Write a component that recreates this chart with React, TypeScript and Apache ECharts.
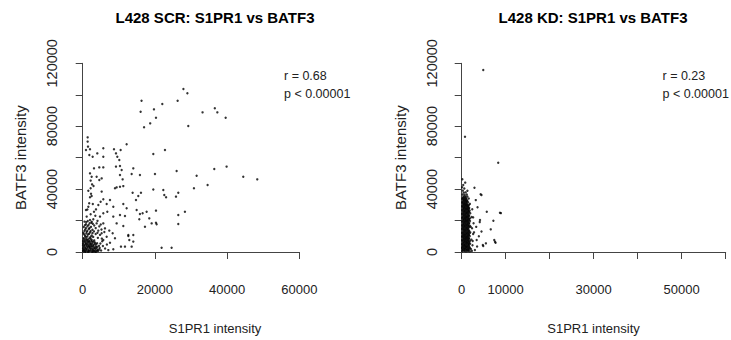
import { useEffect, useRef } from "react";
import * as echarts from "echarts";

// ---------- texts ----------
const scrTitle = "L428 SCR: S1PR1 vs BATF3";
const kdTitle = "L428 KD: S1PR1 vs BATF3";
const xAxisTitle = "S1PR1 intensity";
const yAxisTitle = "BATF3 intensity";
const scrStats = ["r = 0.68", "p < 0.00001"];
const kdStats = ["r = 0.23", "p < 0.00001"];

// ---------- axes ----------
const xMin = 0;
const xMax = 60000;
const yMin = 0;
const yMax = 120000;
const scrXInterval = 20000;
const kdXInterval = 10000;
const yInterval = 20000;
const scrXTickLabels = [0, 20000, 40000, 60000];
const kdXTickLabels = [0, 10000, 30000, 50000];
const yTickLabels = [0, 40000, 80000, 120000];

// ---------- data: [S1PR1 intensity, BATF3 intensity] ----------
const scrUpper: [number, number][] = [
  [27900, 103700], [29000, 100900], [16300, 96200], [22050, 94100], [26300, 96200],
  [19740, 90700], [16050, 89200], [33200, 88800], [36600, 91400], [37300, 88800],
  [39600, 85400], [20300, 85400], [18700, 81800], [17000, 79300], [29250, 80100],
];

const scrMiddle: [number, number][] = [
  [1370, 72900], [1370, 70200], [1470, 67000], [910, 64900], [2020, 65300], [5710, 66000],
  [8670, 65300], [10510, 64900], [12170, 68500], [1840, 61700], [2760, 60600], [4050, 62700],
  [5710, 60600], [9220, 62700], [9590, 60600], [10140, 58500], [19560, 62300], [22790, 64900],
  [3130, 53200], [4600, 53800], [5710, 53800], [9220, 54300], [10330, 54700], [10790, 52100],
  [14020, 53200], [15860, 49000], [20020, 49600], [26020, 51500], [31560, 48500], [36450, 52800],
  [39860, 54300], [44480, 47900], [48360, 46200], [2020, 50000], [2480, 47900], [2200, 45400],
  [3860, 47900], [4600, 45800], [5250, 46800], [10330, 49000], [11060, 46200], [13560, 49600],
  [9400, 41100], [10330, 41500], [11250, 41900], [8940, 40500], [2200, 40500], [1560, 39000],
  [2480, 35600], [2020, 34800], [5250, 38400], [19560, 39800], [22330, 39400], [22600, 36200],
  [23100, 34800], [25840, 35200], [26480, 37700], [30820, 40500], [34600, 42600], [28320, 25600],
  [13830, 37700], [15400, 35600], [16140, 37700], [14760, 33100], [5710, 33500], [7560, 33100],
  [2600, 43000], [3000, 42000], [2300, 37000], [1800, 31000], [2800, 30500], [1300, 27000],
  [2200, 24000], [3500, 23000],
];

const scrLower: [number, number][] = [
  [17710, 25600], [15860, 24200], [16600, 24600], [20300, 26300], [18450, 21400], [20300, 18600],
  [26480, 23500], [19100, 18200], [17250, 16100], [20480, 17600], [26480, 17800], [21860, 2750],
  [24630, 2750], [10600, 3400], [11710, 3400], [13560, 3400], [12640, 10800], [14020, 10800],
  [14020, 6600], [11250, 16500], [15680, 20800], [14940, 26700], [12170, 27800], [11250, 30500],
  [11710, 22900], [10330, 23500], [9400, 18200], [8480, 22500], [8480, 28800], [6820, 25600],
  [6640, 30500], [4970, 32000], [4330, 29900], [3680, 27100], [5710, 24600], [4790, 22500],
  [3130, 25600], [1560, 28800], [910, 26700], [1100, 22500], [2020, 20300], [2940, 20800],
  [3860, 18200], [5710, 18200], [6170, 15000], [7370, 13600], [5250, 11900], [4330, 13600],
  [6640, 9700], [8300, 11900], [8940, 8700], [8480, 1700], [7560, 5900], [5710, 7600],
  [12910, 7600], [12640, 10200],
];

const scrCluster: [number, number][] = [
  [150, 300], [700, 500], [1300, 250], [1900, 600], [2500, 350], [3100, 550], [3800, 300], [4300, 700],
  [400, 1500], [1000, 1800], [1600, 1400], [2200, 1900], [2800, 1600], [3500, 2000], [4100, 1500],
  [200, 3000], [800, 2800], [1400, 3300], [2000, 3100], [2600, 3400], [3300, 2900], [4000, 3300],
  [500, 4400], [1100, 4700], [1700, 4300], [2300, 4800], [3000, 4500], [3700, 4900],
  [250, 6000], [900, 5800], [1500, 6200], [2100, 5900], [2700, 6300], [3400, 6000],
  [600, 7300], [1200, 7600], [1800, 7200], [2500, 7700], [3200, 7400],
  [4700, 2600], [5100, 1000], [5600, 3800], [6200, 2200], [4900, 5400], [5400, 6800], [6700, 4800], [7100, 1200],
  [300, 8800], [1000, 9400], [1900, 8900], [2900, 9600], [4200, 9000], [5300, 8500],
  [600, 10700], [1500, 11200], [2500, 10500], [3600, 11400], [4800, 10900],
  [200, 12300], [1100, 12800], [2000, 12500], [3100, 13100], [4100, 12200], [6000, 12700],
  [700, 14300], [1700, 14700], [2700, 14100], [3600, 15200], [5200, 14300],
  [300, 15900], [1300, 16400], [2300, 16000], [3200, 16800], [4600, 16300],
  [900, 17700], [1900, 18300], [2800, 17900], [5000, 17500],
  [500, 19300], [1400, 19700], [2500, 19200], [4100, 19800],
];

const scrCore: [number, number][] = [
  [450, 900], [1000, 1100], [1600, 800], [2200, 1000], [2800, 1100], [3400, 900], [4000, 1000],
  [700, 2300], [1300, 2400], [1900, 2500], [2500, 2300], [3100, 2400], [3800, 2600],
  [500, 3700], [1100, 3900], [1700, 3700], [2300, 3900], [2900, 3800], [3600, 3700],
  [800, 5100], [1400, 5300], [2000, 5100], [2600, 5300], [3300, 5200], [4000, 5600],
  [600, 6600], [1200, 6800], [1800, 6600], [2400, 6900], [3000, 6700],
  [100, 1000], [100, 2200], [100, 4200], [100, 5200], [100, 7000],
  [300, 8100], [900, 8300], [1500, 8100], [2200, 8400],
  [700, 100], [1600, 100], [2800, 120], [3500, 100], [4600, 1600], [4500, 3900],
  [700, 9900], [1300, 10000], [2200, 9700], [300, 11500], [1000, 11800], [1800, 11600],
  [2700, 12000], [500, 13500], [1300, 13500], [2200, 13300], [900, 15200], [1900, 15300],
  [600, 17000], [1600, 17100], [2400, 18600], [1000, 19000],
];

const kdOutliers: [number, number][] = [
  [4900, 115700], [750, 73300], [8300, 56800], [8700, 25000], [8900, 24700], [2900, 40900],
  [4300, 36700], [4500, 36200], [5700, 25600], [7200, 19900], [6600, 14400], [7700, 5900],
  [7400, 7600], [4800, 4500], [5500, 5500], [3000, 1300], [3200, 33000], [3600, 28500],
  [2600, 22000], [4100, 19000], [4160, 20300], [3300, 16000], [2800, 12500], [3900, 10000],
  [4500, 13000], [2500, 7000], [3400, 7600], [3500, 3500], [4900, 3800], [7570, 6550],
];

const kdBlob: [number, number][] = [
  [120, 480], [560, 620], [980, 390], [1420, 560], [1850, 450], [2300, 700],
  [330, 1650], [770, 1820], [1210, 1590], [1640, 1760], [2100, 1900],
  [100, 2950], [540, 2810], [960, 3020], [1380, 2870], [1790, 2990],
  [310, 4060], [750, 4180], [1170, 3990], [1600, 4140], [2450, 4300],
  [180, 5330], [620, 5220], [1040, 5380], [1480, 5260], [1900, 5400],
  [400, 6450], [830, 6580], [1260, 6420], [1700, 6550],
  [140, 7720], [580, 7630], [1010, 7790], [1440, 7680], [2200, 7850],
  [360, 8940], [790, 8820], [1220, 8970], [1650, 8860],
  [110, 10050], [530, 10180], [950, 10030], [1390, 10150], [1820, 10090],
  [320, 11340], [740, 11220], [1180, 11370], [1600, 11260], [2600, 11500],
  [170, 12480], [600, 12560], [1030, 12430], [1460, 12590], [1950, 12500],
  [390, 13740], [820, 13650], [1250, 13780], [1680, 13690],
  [130, 14920], [560, 14830], [990, 14970], [1420, 14860], [2350, 15100],
  [340, 16080], [770, 16150], [1200, 16030], [1630, 16170], [2050, 16000],
  [190, 17330], [610, 17240], [1050, 17380], [1480, 17270],
  [420, 18480], [850, 18560], [1280, 18430], [1710, 18540], [2700, 18300],
  [120, 19730], [560, 19650], [980, 19780], [1410, 19680], [1880, 19750],
  [350, 20880], [790, 20950], [1220, 20840], [1650, 20930],
  [160, 22130], [600, 22040], [1030, 22170], [1460, 22080], [2250, 22300],
  [400, 23280], [830, 23360], [1260, 23240], [1690, 23330],
  [130, 24530], [570, 24450], [1000, 24580], [1430, 24470], [1950, 24600],
  [360, 25690], [790, 25760], [1220, 25640], [1650, 25730],
  [180, 26930], [620, 26850], [1050, 26980], [1480, 26870], [2400, 27200],
  [410, 28080], [840, 28150], [1270, 28040], [1700, 28120],
  [140, 29330], [580, 29250], [1010, 29380], [1440, 29270],
  [370, 30480], [800, 30560], [1230, 30430], [1850, 30600],
  [150, 31730], [590, 31640], [1020, 31780], [1450, 31680],
  [380, 32880], [810, 32950], [1240, 32840],
  [170, 34130], [600, 34050], [1030, 34180], [1600, 34000],
  [420, 35280], [860, 35360], [1300, 35240],
  [200, 36520], [650, 36450], [1150, 36600],
  [450, 37750], [900, 37900],
  [250, 39050], [1300, 38900],
  [600, 40400], [100, 41200],
  [350, 42600], [800, 44100], [150, 46300],
];

const kdBlobFill: [number, number][] = [
  [220, 1100], [660, 1050], [1100, 1180], [1530, 1080],
  [110, 2300], [550, 2250], [990, 2380], [1420, 2280], [1850, 2400],
  [320, 3480], [760, 3560], [1190, 3440], [1600, 3540],
  [130, 4720], [540, 4650], [980, 4780], [1400, 4690], [1750, 4800],
  [330, 5880], [770, 5950], [1200, 5840], [1620, 5930],
  [160, 7080], [600, 7160], [1030, 7050], [1470, 7140], [1900, 7100],
  [380, 8280], [810, 8350], [1240, 8240], [1670, 8330],
  [150, 9520], [580, 9450], [1010, 9560], [1440, 9480],
  [340, 10680], [770, 10750], [1200, 10640], [1630, 10730],
  [130, 11920], [560, 11850], [990, 11960], [1420, 11880], [1800, 11950],
  [380, 13080], [810, 13150], [1240, 13040], [1670, 13130],
  [160, 14320], [590, 14250], [1020, 14360], [1450, 14280],
  [350, 15480], [780, 15550], [1210, 15440], [1640, 15530],
  [140, 16720], [570, 16650], [1000, 16760], [1430, 16680], [1850, 16700],
  [370, 17880], [800, 17950], [1230, 17840], [1660, 17930],
  [170, 19120], [600, 19050], [1030, 19160], [1460, 19080],
  [390, 20280], [820, 20350], [1250, 20240], [1680, 20330],
  [140, 21520], [570, 21450], [1000, 21560], [1430, 21480], [1900, 21500],
  [360, 22680], [790, 22750], [1220, 22640], [1650, 22730],
  [170, 23920], [600, 23850], [1030, 23960], [1460, 23880],
  [380, 25080], [810, 25150], [1240, 25040], [1670, 25130],
  [150, 26320], [580, 26250], [1010, 26360], [1440, 26280], [1800, 26300],
  [370, 27480], [800, 27550], [1230, 27440], [1660, 27530],
  [160, 28720], [590, 28650], [1020, 28760], [1450, 28680],
  [360, 29880], [790, 29950], [1220, 29840], [1650, 29900],
  [170, 31120], [600, 31050], [1030, 31160],
  [380, 32280], [810, 32350], [1240, 32240],
  [160, 33520], [590, 33450], [1020, 33560],
  [360, 34680], [790, 34750],
];

const FONT = "'Liberation Sans', Arial, Helvetica, sans-serif";
const AXIS_COLOR = "#444";
const TEXT_COLOR = "#222";

function xAxisFor(gridIndex: number, interval: number, shown: number[]) {
  return {
    type: "value",
    gridIndex,
    min: xMin,
    max: xMax,
    interval,
    offset: 8,
    axisLine: { show: true, lineStyle: { color: AXIS_COLOR, width: 1 } },
    axisTick: { show: true, length: 7, lineStyle: { color: AXIS_COLOR, width: 1 } },
    axisLabel: {
      margin: 23,
      fontSize: 13,
      fontFamily: FONT,
      color: TEXT_COLOR,
      formatter: (v: number) => (shown.includes(v) ? String(v) : ""),
    },
    splitLine: { show: false },
  };
}

function yAxisFor(gridIndex: number, offset: number) {
  return {
    type: "value",
    gridIndex,
    min: yMin,
    max: yMax,
    interval: yInterval,
    offset,
    name: yAxisTitle,
    nameLocation: "middle",
    nameGap: 45,
    nameTextStyle: { fontSize: 15, fontFamily: FONT, color: TEXT_COLOR },
    axisLine: { show: true, lineStyle: { color: AXIS_COLOR, width: 1 } },
    axisTick: { show: true, length: 7, lineStyle: { color: AXIS_COLOR, width: 1 } },
    axisLabel: {
      rotate: 90,
      margin: 13,
      fontSize: 14.5,
      fontFamily: FONT,
      color: TEXT_COLOR,
      formatter: (v: number) => (yTickLabels.includes(v) ? String(v) : ""),
    },
    splitLine: { show: false },
  };
}

function label(text: string, x: number, y: number, size: number, bold: boolean, align: string) {
  return {
    type: "text",
    x,
    y,
    silent: true,
    style: {
      text,
      fill: bold ? "#000" : TEXT_COLOR,
      fontSize: size,
      fontWeight: bold ? "bold" : "normal",
      fontFamily: FONT,
      align,
      verticalAlign: "middle",
    },
  };
}

export default function App() {
  const ref = useRef<HTMLDivElement>(null);

  useEffect(() => {
    if (!ref.current) return;
    const chart = echarts.init(ref.current, undefined, { renderer: "svg" });
    const dot = { symbol: "circle", symbolSize: 2.4, itemStyle: { color: "#000" } };
    chart.setOption({
      animation: false,
      backgroundColor: "#fff",
      textStyle: { fontFamily: FONT },
      grid: [
        { left: 82.7, top: 63.3, width: 216.6, height: 188.7 },
        { left: 461.7, top: 63.3, width: 264, height: 188.7 },
      ],
      xAxis: [
        xAxisFor(0, scrXInterval, scrXTickLabels),
        xAxisFor(1, kdXInterval, kdXTickLabels),
      ],
      yAxis: [yAxisFor(0, 10), yAxisFor(1, 9)],
      series: [
        {
          type: "scatter",
          name: "SCR",
          xAxisIndex: 0,
          yAxisIndex: 0,
          data: [...scrUpper, ...scrMiddle, ...scrLower, ...scrCluster, ...scrCore],
          ...dot,
        },
        {
          type: "scatter",
          name: "KD",
          xAxisIndex: 1,
          yAxisIndex: 1,
          data: [...kdBlob, ...kdBlobFill, ...kdOutliers],
          ...dot,
        },
      ],
      graphic: [
        label(scrTitle, 215, 17.5, 15, true, "center"),
        label(kdTitle, 593, 17.5, 15, true, "center"),
        label(xAxisTitle, 215, 328, 13, false, "center"),
        label(xAxisTitle, 593.5, 328, 13, false, "center"),
        label(scrStats[0], 284, 76, 12.5, false, "left"),
        label(scrStats[1], 284, 94, 12.5, false, "left"),
        label(kdStats[0], 662.5, 76, 12.5, false, "left"),
        label(kdStats[1], 662.5, 94, 12.5, false, "left"),
      ],
    });
    return () => chart.dispose();
  }, []);

  return (
    <div
      ref={ref}
      style={{ position: "absolute", left: 0, top: 0, width: 731, height: 340, background: "#fff" }}
    />
  );
}
